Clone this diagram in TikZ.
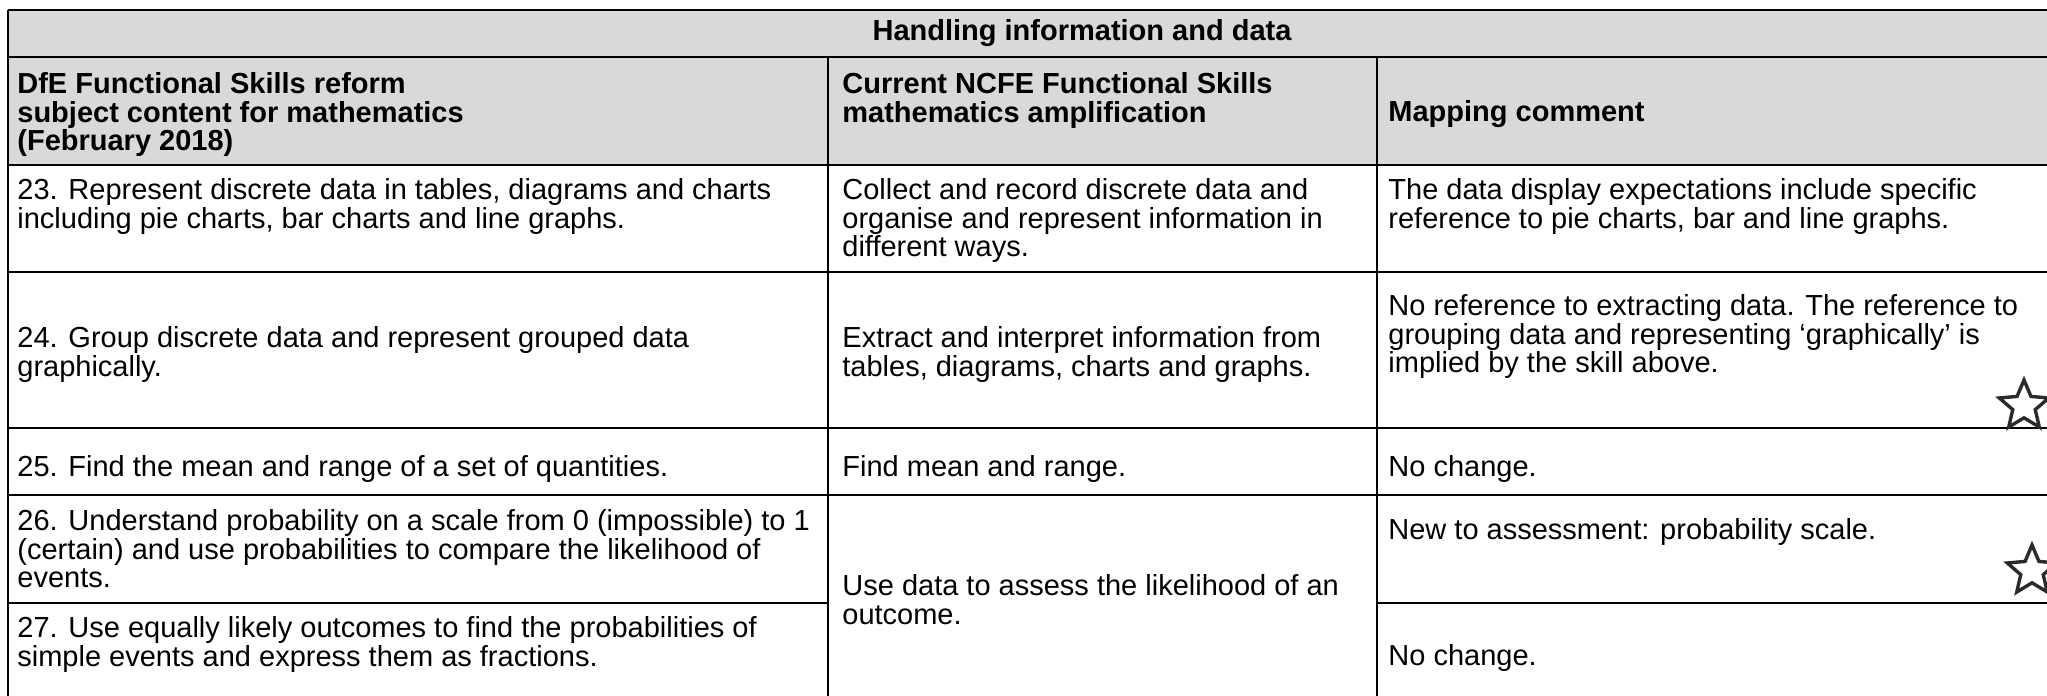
\documentclass[tikz,border=0pt]{standalone}
\usepackage{fontspec}
\setmainfont{Liberation Sans}
\usetikzlibrary{shapes.geometric}
\definecolor{headgray}{HTML}{D9D9D9}
\definecolor{stargray}{HTML}{2B2B2B}
\newcommand{\topstrut}{\rule{0pt}{12pt}}

\begin{document}
\begin{tikzpicture}[x=0.5pt,y=-0.5pt,
    cell/.style={anchor=north west, inner sep=0pt, align=left, font=\fontsize{14.5}{14.3}\selectfont},
    headcell/.style={cell, font=\fontsize{14.5}{14.3}\selectfont\bfseries},
    rule/.style={line width=0.9pt},
    starmark/.style={star, star points=5, star point ratio=2.2, minimum size=26pt, inner sep=0pt, draw=stargray, line width=1.7pt, fill=white}]
    % 列の位置
    \def\xa{8}
    \def\xb{828}
    \def\xc{1377}
    \def\xr{2047}

    \useasboundingbox (0,0) rectangle (2047,696);

    % 見出しの背景
    \fill[headgray] (\xa,10) rectangle (\xr,165);

    % 横線
    \draw[rule] (\xa,10) -- (\xr,10);
    \draw[rule] (\xa,57) -- (\xr,57);
    \draw[rule] (\xa,165) -- (\xr,165);
    \draw[rule] (\xa,272) -- (\xr,272);
    \draw[rule] (\xa,428) -- (\xr,428);
    \draw[rule] (\xa,495) -- (\xr,495);
    \draw[rule] (\xa,603) -- (\xb,603);
    \draw[rule] (\xc,603) -- (\xr,603);

    % 縦線
    \draw[rule] (\xa,10) -- (\xa,696);
    \draw[rule] (\xb,57) -- (\xb,696);
    \draw[rule] (\xc,57) -- (\xc,696);

    % 見出し
    \node[headcell, anchor=base] (title) at (1082,40) {Handling information and data};
    \node[headcell] (dfe) at (17,69) {\topstrut DfE Functional Skills reform\\subject content for mathematics\\(February 2018)};
    \node[headcell] (ncfe) at (842,69) {\topstrut Current NCFE Functional Skills\\mathematics amplification};
    \node[headcell] (mapping) at (1388,97) {\topstrut Mapping comment};

    % 23
    \node[cell] (dfe23) at (17,175) {\topstrut 23. Represent discrete data in tables, diagrams and charts\\including pie charts, bar charts and line graphs.};
    \node[cell] (ncfe23) at (842,175) {\topstrut Collect and record discrete data and\\organise and represent information in\\different ways.};
    \node[cell] (map23) at (1388,175) {\topstrut The data display expectations include specific\\reference to pie charts, bar and line graphs.};

    % 24
    \node[cell] (dfe24) at (17,323) {\topstrut 24. Group discrete data and represent grouped data\\graphically.};
    \node[cell] (ncfe24) at (842,323) {\topstrut Extract and interpret information from\\tables, diagrams, charts and graphs.};
    \node[cell] (map24) at (1388,291) {\topstrut No reference to extracting data. The reference to\\grouping data and representing ‘graphically’ is\\implied by the skill above.};

    % 25
    \node[cell] (dfe25) at (17,452) {\topstrut 25. Find the mean and range of a set of quantities.};
    \node[cell] (ncfe25) at (842,452) {\topstrut Find mean and range.};
    \node[cell] (map25) at (1388,452) {\topstrut No change.};

    % 26, 27
    \node[cell] (dfe26) at (17,506) {\topstrut 26. Understand probability on a scale from 0 (impossible) to 1\\(certain) and use probabilities to compare the likelihood of\\events.};
    \node[cell] (map26) at (1388,515) {\topstrut New to assessment: probability scale.};
    \node[cell] (ncfe26) at (842,571) {\topstrut Use data to assess the likelihood of an\\outcome.};
    \node[cell] (dfe27) at (17,613) {\topstrut 27. Use equally likely outcomes to find the probabilities of\\simple events and express them as fractions.};
    \node[cell] (map27) at (1388,641) {\topstrut No change.};

    % 星印
    \node[starmark] (star24) at (2024,406) {};
    \node[starmark] (star26) at (2032,571) {};
\end{tikzpicture}
\end{document}
